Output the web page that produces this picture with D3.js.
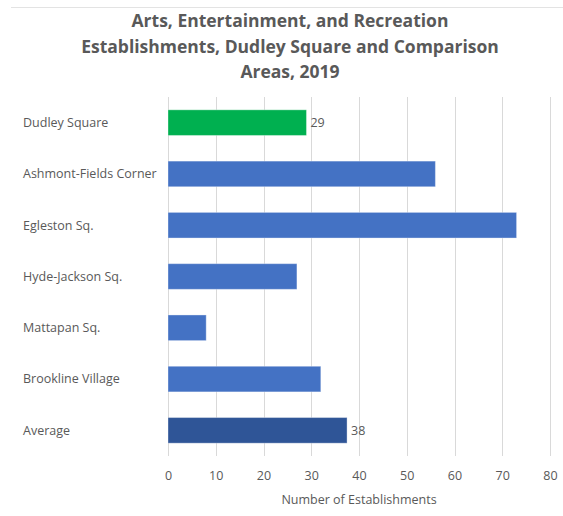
<!DOCTYPE html>
<html>
<head>
<meta charset="utf-8">
<script src="https://cdn.jsdelivr.net/npm/d3@7"></script>
<style>
  html, body { margin: 0; padding: 0; background: #fff; }
  svg { display: block; }
  text { font-family: "Open Sans", "Noto Sans", sans-serif; }
</style>
</head>
<body>
<svg id="chart" width="563" height="516"></svg>
<script>
// Establishment counts by area, 2019
const categories = ["Dudley Square", "Ashmont-Fields Corner", "Egleston Sq.", "Hyde-Jackson Sq.", "Mattapan Sq.", "Brookline Village", "Average"];
const values = [29, 56, 73, 27, 8, 32, 37.5];
const valueLabels = ["29", "", "", "", "", "", "38"];
const barColors = ["#00B050", "#4472C4", "#4472C4", "#4472C4", "#4472C4", "#4472C4", "#2F5597"];
const xTicks = [0, 10, 20, 30, 40, 50, 60, 70, 80];
const titleLines = ["Arts, Entertainment, and Recreation", "Establishments, Dudley Square and Comparison", "Areas, 2019"];
const xAxisTitle = "Number of Establishments";

const svg = d3.select("#chart");
const W = 563, H = 516;
const plot = { left: 168, right: 550, top: 97, bottom: 456 };

// top border of chart area
svg.append("line")
  .attr("x1", 11).attr("x2", W).attr("y1", 7.5).attr("y2", 7.5)
  .attr("stroke", "#e3e3e3").attr("stroke-width", 1);

// title
svg.append("text")
  .attr("text-anchor", "middle")
  .attr("fill", "#595959")
  .attr("font-size", 17.5)
  .attr("font-weight", "bold")
  .selectAll("tspan")
  .data(titleLines)
  .join("tspan")
  .attr("x", 290)
  .attr("y", (d, i) => 27 + i * 25.5)
  .text(d => d);

const x = d3.scaleLinear().domain([0, 80]).range([plot.left, plot.right]);
const y = d3.scaleBand().domain(categories).range([plot.top, plot.bottom])
  .paddingInner(0.5).paddingOuter(0.25);

// vertical gridlines
svg.append("g")
  .selectAll("line")
  .data(xTicks)
  .join("line")
  .attr("x1", d => Math.round(x(d)) + 0.5)
  .attr("x2", d => Math.round(x(d)) + 0.5)
  .attr("y1", plot.top).attr("y2", plot.bottom)
  .attr("stroke", "#d9d9d9").attr("stroke-width", 1);

// x axis tick labels
const xAxis = d3.axisBottom(x).tickValues(xTicks).tickSize(0).tickPadding(0);
const gx = svg.append("g")
  .attr("transform", `translate(0,${plot.bottom})`)
  .call(xAxis);
gx.select(".domain").remove();
gx.selectAll("text")
  .attr("y", 24)
  .attr("dy", 0)
  .attr("fill", "#595959")
  .attr("font-size", 12.5)
  .attr("font-family", "\"Open Sans\", sans-serif");

// axis title
svg.append("text")
  .attr("x", x(40)).attr("y", 504)
  .attr("text-anchor", "middle")
  .attr("fill", "#595959")
  .attr("font-size", 12.5)
  .text(xAxisTitle);

// category labels
svg.append("g")
  .selectAll("text")
  .data(categories)
  .join("text")
  .attr("x", 23)
  .attr("y", d => y(d) + y.bandwidth() / 2)
  .attr("dy", "0.35em")
  .attr("fill", "#595959")
  .attr("font-size", 12.5)
  .text(d => d);

// bars
svg.append("g")
  .selectAll("rect")
  .data(categories)
  .join("rect")
  .attr("x", x(0))
  .attr("y", d => y(d))
  .attr("width", (d, i) => x(values[i]) - x(0))
  .attr("height", y.bandwidth())
  .attr("fill", (d, i) => barColors[i])
  .attr("stroke", "#ffffff")
  .attr("stroke-opacity", 0.35)
  .attr("stroke-width", 1);

// value labels
svg.append("g")
  .selectAll("text")
  .data(categories)
  .join("text")
  .attr("x", (d, i) => x(values[i]) + 4)
  .attr("y", d => y(d) + y.bandwidth() / 2)
  .attr("dy", "0.35em")
  .attr("fill", "#595959")
  .attr("font-size", 12.5)
  .text((d, i) => valueLabels[i]);
</script>
</body>
</html>
